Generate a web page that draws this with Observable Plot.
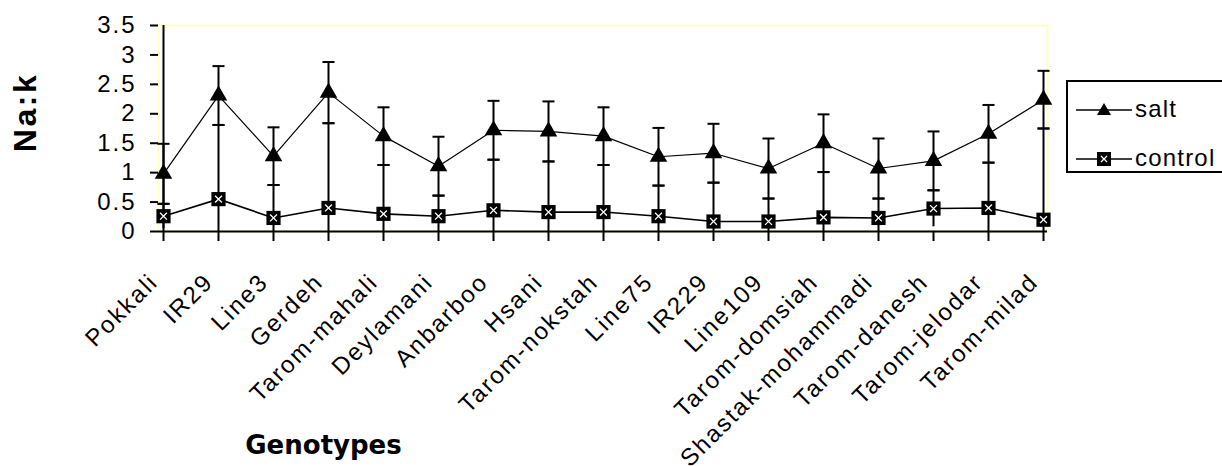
<!DOCTYPE html>
<html>
<head>
<meta charset="utf-8">
<script src="https://cdn.jsdelivr.net/npm/d3@7"></script>
<script src="https://cdn.jsdelivr.net/npm/@observablehq/plot@0.6"></script>
<style>
  html, body { margin: 0; padding: 0; background: #fff; width: 1222px; height: 466px; overflow: hidden; }
  #wrap { position: relative; width: 1222px; height: 466px; overflow: hidden; }
  #legend { position: absolute; left: 1066px; top: 80px; width: 210px; height: 89px; border: 2px solid #000; background: #fff; }
  #legend .row { position: absolute; left: 0; height: 30px; width: 200px; }
  #legend svg { position: absolute; left: 8px; top: 0; }
  #legend span { position: absolute; left: 67px; top: 0; line-height: 30px; font: 24px "Liberation Sans", Arial, sans-serif; letter-spacing: 1.2px; color: #000; }
  g[aria-label="y-axis tick label"] text { letter-spacing: 2px; }
  .xlab text { letter-spacing: 2px; }
  .ytitle text { letter-spacing: 2.5px; }
</style>
</head>
<body>
<div id="wrap">
  <div id="chart"></div>
  <div id="legend">
    <div class="row" style="top:13px">
      <svg width="58" height="30"><line x1="0" y1="15" x2="56" y2="15" stroke="#000" stroke-width="1.5"/><path d="M28,8 L35,20 L21,20 Z" fill="#000"/></svg>
      <span>salt</span>
    </div>
    <div class="row" style="top:62px">
      <svg width="58" height="30"><line x1="0" y1="15" x2="56" y2="15" stroke="#000" stroke-width="1.5"/><rect x="21" y="8" width="14" height="14" fill="#000"/><path d="M25,12 L31,18 M31,12 L25,18" stroke="#fff" stroke-width="1.3"/></svg>
      <span>control</span>
    </div>
  </div>
</div>
<script>
const genotypes = ["Pokkali","IR29","Line3","Gerdeh","Tarom-mahali","Deylamani","Anbarboo","Hsani","Tarom-nokstah","Line75","IR229","Line109","Tarom-domsiah","Shastak-mohammadi","Tarom-danesh","Tarom-jelodar","Tarom-milad"];
const saltMean   = [0.98, 2.31, 1.28, 2.36, 1.62, 1.11, 1.72, 1.70, 1.62, 1.27, 1.33, 1.07, 1.50, 1.07, 1.20, 1.66, 2.24];
const saltErr    = [0.51, 0.50, 0.49, 0.52, 0.49, 0.50, 0.50, 0.51, 0.49, 0.49, 0.50, 0.51, 0.49, 0.51, 0.50, 0.49, 0.49];
const controlMean= [0.26, 0.55, 0.23, 0.40, 0.30, 0.26, 0.36, 0.33, 0.33, 0.26, 0.17, 0.17, 0.24, 0.23, 0.39, 0.40, 0.20];
const controlErr = [0.21, 1.26, 0.56, 1.44, 0.83, 0.35, 0.86, 0.86, 0.80, 0.52, 0.66, 0.39, 0.77, 0.33, 0.31, 0.77, 1.55];
const yTicks      = [0, 0.5, 1, 1.5, 2, 2.5, 3, 3.5];
const yTickLabels = ["0", "0.5", "1", "1.5", "2", "2.5", "3", "3.5"];
const yTitle = "Na:k";
const xTitle = "Genotypes";

const data = genotypes.map((g, i) => ({
  g, salt: saltMean[i], se: saltErr[i], control: controlMean[i], ce: controlErr[i]
}));

const cap = {
  draw(ctx, size) {
    const r = Math.sqrt(size / Math.PI);
    ctx.moveTo(-r, 0); ctx.lineTo(r, 0);
  }
};

const chart = Plot.plot({
  width: 1222,
  height: 466,
  marginLeft: 158,
  marginRight: 175,
  marginTop: 25,
  marginBottom: 235,
  style: { fontFamily: "'Liberation Sans', Arial, sans-serif", background: "transparent", color: "#000" },
  x: { type: "point", domain: genotypes, padding: 0 },
  y: { domain: [0, 3.5] },
  marks: [
    Plot.frame({ stroke: "#ffffc4", strokeWidth: 2 }),
    // control error bars
    Plot.ruleX(data, { x: "g", y1: d => d.control - d.ce, y2: d => d.control + d.ce, stroke: "#000", strokeWidth: 2, clip: true }),
    Plot.dot(data, { x: "g", y: d => d.control + d.ce, symbol: cap, r: 6, stroke: "#000", strokeWidth: 2 }),
    // salt error bars
    Plot.ruleX(data, { x: "g", y1: d => d.salt - d.se, y2: d => d.salt + d.se, stroke: "#000", strokeWidth: 2 }),
    Plot.dot(data, { x: "g", y: d => d.salt + d.se, symbol: cap, r: 6, stroke: "#000", strokeWidth: 2 }),
    Plot.dot(data, { x: "g", y: d => d.salt - d.se, symbol: cap, r: 6, stroke: "#000", strokeWidth: 2 }),
    // lines
    Plot.line(data, { x: "g", y: "salt", stroke: "#000", strokeWidth: 1.2 }),
    Plot.line(data, { x: "g", y: "control", stroke: "#000", strokeWidth: 1.6 }),
    // axes lines
    Plot.ruleY([0], { stroke: "#000", strokeWidth: 2 }),
    Plot.ruleX([genotypes[0]], { stroke: "#000", strokeWidth: 2 }),
    // markers
    Plot.dot(data, { x: "g", y: "salt", symbol: "triangle", r: 6.5, fill: "#000", stroke: "none" }),
    Plot.dot(data, { x: "g", y: "control", symbol: "square", r: 8, fill: "#000", stroke: "none" }),
    Plot.dot(data, { x: "g", y: "control", symbol: "times", r: 3.2, stroke: "#fff", strokeWidth: 1.3 }),
    // axes
    Plot.axisY(yTicks, { tickSize: 8, tickPadding: 14, fontSize: 24, stroke: "#000", strokeWidth: 2,
      tickFormat: d => yTickLabels[yTicks.indexOf(d)], label: null }),
    Plot.axisX(genotypes, { tickSize: 10, tickFormat: () => "", stroke: "#000", strokeWidth: 2, label: null }),
    Plot.text(genotypes, { x: d => d, frameAnchor: "bottom", rotate: -45, textAnchor: "end", lineAnchor: "bottom",
      dx: -4, dy: 52, fontSize: 24, fill: "#000", className: "xlab" }),
    Plot.text([yTitle], { frameAnchor: "left", textAnchor: "middle", rotate: -90, dx: -133, dy: -16, fontSize: 32, fontWeight: "bold", fill: "#000", className: "ytitle" }),
    Plot.text([xTitle], { frameAnchor: "bottom-left", textAnchor: "middle", dx: 165, dy: 222, lineAnchor: "bottom", fontSize: 26, fontWeight: "bold",
      fontFamily: "'DejaVu Sans', Verdana, sans-serif", fill: "#000" })
  ]
});
document.getElementById("chart").appendChild(chart);
</script>
</body>
</html>
